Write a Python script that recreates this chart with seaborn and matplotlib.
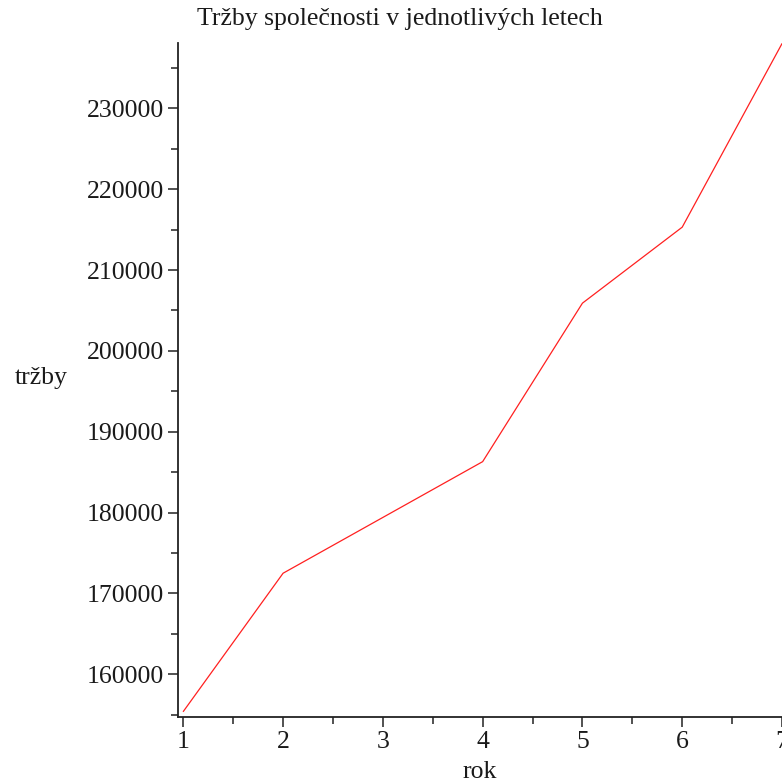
import matplotlib.pyplot as plt
import matplotlib.ticker as mt
import pandas as pd
import seaborn as sns

# values
roky = [1, 2, 3, 4, 5, 6, 7]
trzby = [155400, 172500, 179400, 186300, 205900, 215300, 238000]

data = pd.DataFrame({"rok": roky, "trzby": trzby})

sns.set_theme(style="ticks")
plt.rcParams['font.family'] = ['Liberation Serif', 'DejaVu Serif']

fig = plt.figure(figsize=(7.82, 7.83), dpi=100)
ax = fig.add_axes([177.7 / 782, 66.3 / 783, 1 - 177.7 / 782, 673.4 / 783])

sns.lineplot(ax=ax, data=data, x="rok", y="trzby", color="#ff2020", linewidth=0.9)

ax.set_xlim(0.944, 7.0)
ax.set_ylim(154756, 238039)

ax.xaxis.set_major_locator(mt.MultipleLocator(1))
ax.xaxis.set_minor_locator(mt.MultipleLocator(0.5))
ax.yaxis.set_major_locator(mt.MultipleLocator(10000))
ax.yaxis.set_minor_locator(mt.MultipleLocator(5000))
ax.yaxis.set_major_formatter(mt.FormatStrFormatter('%d'))

ax.tick_params(which='major', length=7.5, width=1.1, labelsize=18.5, pad=2.5, color='#222222', labelcolor='#1a1a1a')
ax.tick_params(which='minor', length=5, width=1.1, color='#222222')

sns.despine(ax=ax)
for s in ['left', 'bottom']:
    ax.spines[s].set_linewidth(1.3)
    ax.spines[s].set_color('#222222')

ax.set_xlabel('rok', fontsize=18.5, labelpad=6, color='#1a1a1a')
ax.set_ylabel('')
fig.text(15 / 782, 1 - 378 / 783, 'tržby', fontsize=18.5, ha='left', va='center', color='#1a1a1a')
fig.text(400 / 782, 1 - 19 / 783, 'Tržby společnosti v jednotlivých letech', fontsize=18.5,
         ha='center', va='center', color='#1a1a1a')

fig.savefig('out.png', dpi=100)
